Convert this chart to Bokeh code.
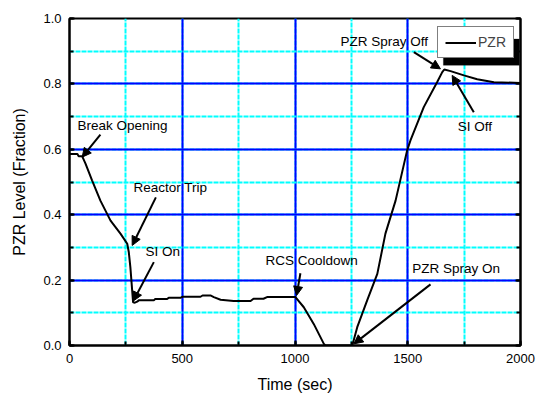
from bokeh.plotting import figure
from bokeh.models import (ColumnDataSource, SingleIntervalTicker, LinearAxis, Range1d,
                          Arrow, NormalHead, Legend, LegendItem, CustomJSTickFormatter,
                          PrintfTickFormatter, BoxAnnotation)
from bokeh.core.properties import value
from bokeh.embed import file_html
from bokeh.resources import INLINE

# ---- data ----
time_s = [0, 35, 40, 56, 71, 100, 137, 182, 204, 226, 256, 263, 270, 282, 290, 300, 307,
          374, 380, 433, 440, 492, 500, 581, 590, 625, 640, 670, 728, 803, 816, 860, 876,
          1002, 1039, 1083, 1128, 1135, 1254, 1276, 1320, 1365, 1401, 1446, 1497, 1512,
          1571, 1630, 1653, 1662, 1690, 1749, 1808, 1882, 2000]
pzr_level = [0.586, 0.586, 0.579, 0.579, 0.556, 0.505, 0.443, 0.382, 0.362, 0.342, 0.311,
             0.285, 0.239, 0.132, 0.131, 0.134, 0.138, 0.138, 0.142, 0.142, 0.146, 0.146,
             0.149, 0.149, 0.153, 0.153, 0.148, 0.140, 0.136, 0.136, 0.143, 0.143, 0.148,
             0.148, 0.117, 0.066, 0.005, 0.0, 0.0, 0.056, 0.138, 0.219, 0.342, 0.443,
             0.596, 0.627, 0.729, 0.805, 0.836, 0.844, 0.839, 0.826, 0.814, 0.805, 0.803]

event_labels = ["Break Opening", "Reactor Trip", "SI On", "RCS Cooldown",
                "PZR Spray On", "PZR Spray Off", "SI Off"]
label_x = [35, 284, 337, 869, 1520, 1202, 1722]
label_y = [0.673, 0.483, 0.288, 0.260, 0.235, 0.931, 0.670]
arrow_x0 = [137, 383, 374, 1024, 1601, 1527, 1793]
arrow_y0 = [0.645, 0.453, 0.255, 0.221, 0.187, 0.897, 0.713]
arrow_x1 = [56, 278, 283, 1007, 1261, 1645, 1697]
arrow_y1 = [0.576, 0.306, 0.136, 0.153, 0.005, 0.846, 0.826]

FONT = "Liberation Sans"

p = figure(width=541, height=405, output_backend="svg", toolbar_location=None,
           x_range=Range1d(0, 2000), y_range=Range1d(0, 1.0),
           min_border_left=69, min_border_right=21, min_border_top=18,
           min_border_bottom=60, x_axis_label="Time (sec)",
           y_axis_label="PZR Level (Fraction)")
p.background_fill_color = "white"
p.border_fill_color = "white"
p.outline_line_color = "black"
p.outline_line_width = 2

xt = SingleIntervalTicker(interval=500, num_minor_ticks=2)
yt = SingleIntervalTicker(interval=0.2, num_minor_ticks=2)
p.xaxis.ticker = xt
p.yaxis.ticker = yt
p.xgrid.ticker = xt
p.ygrid.ticker = yt
p.yaxis.formatter = PrintfTickFormatter(format="%.1f")

for g in (p.xgrid, p.ygrid):
    g.grid_line_color = "#0000FF"
    g.grid_line_width = 2
    g.grid_line_alpha = 1
    g.minor_grid_line_color = "#00FFFF"
    g.minor_grid_line_width = 2
    g.minor_grid_line_dash = "5 1"

for ax in (p.xaxis, p.yaxis):
    ax.axis_line_width = 2
    ax.axis_line_color = "black"
    ax.major_tick_in = 5
    ax.major_tick_out = 0
    ax.minor_tick_in = 4
    ax.minor_tick_out = 0
    ax.major_tick_line_width = 2
    ax.minor_tick_line_width = 2
    ax.major_label_text_font = FONT
    ax.major_label_text_font_size = "13px"
    ax.major_label_text_color = "black"
    ax.axis_label_text_font = FONT
    ax.axis_label_text_font_style = "normal"
    ax.axis_label_text_color = "black"
p.xaxis.axis_label_text_font_size = "16px"
p.yaxis.axis_label_text_font_size = "16px"
p.xaxis.major_label_standoff = 8
p.yaxis.major_label_standoff = 8
p.xaxis.axis_label_standoff = 10
p.yaxis.axis_label_standoff = 12

right = LinearAxis(ticker=yt, formatter=CustomJSTickFormatter(code="return ''"),
                   axis_line_width=2, major_tick_in=5, major_tick_out=0,
                   minor_tick_in=4, minor_tick_out=0, major_tick_line_width=2,
                   minor_tick_line_width=2, major_label_text_font_size="1px")
p.add_layout(right, "right")

# legend drop shadow
p.add_layout(BoxAnnotation(left=1658, right=1995, top=0.937, bottom=0.857,
                           fill_color="black", fill_alpha=1, line_color="black",
                           level="annotation"))

line = p.line(time_s, pzr_level, line_color="black", line_width=2)

for i in range(len(event_labels)):
    p.add_layout(Arrow(end=NormalHead(size=9, fill_color="black", line_color="black"),
                       x_start=arrow_x0[i], y_start=arrow_y0[i],
                       x_end=arrow_x1[i], y_end=arrow_y1[i],
                       line_color="black", line_width=2))

src = ColumnDataSource(dict(x=label_x, y=label_y, t=event_labels))
p.text(x="x", y="y", text="t", source=src, text_font=value(FONT),
       text_font_size="13.5px", text_align="left", text_baseline="middle",
       text_color="black")

legend = Legend(items=[LegendItem(label="PZR", renderers=[line])],
                location=(368, 287), border_line_color="black", border_line_width=1.5,
                background_fill_color="white", background_fill_alpha=1,
                label_text_font=FONT, label_text_font_size="14px",
                glyph_width=31, glyph_height=13, label_standoff=2, padding=7,
                margin=0, spacing=0, label_height=13)
p.add_layout(legend)

open("out.html", "w").write(file_html(p, INLINE))
